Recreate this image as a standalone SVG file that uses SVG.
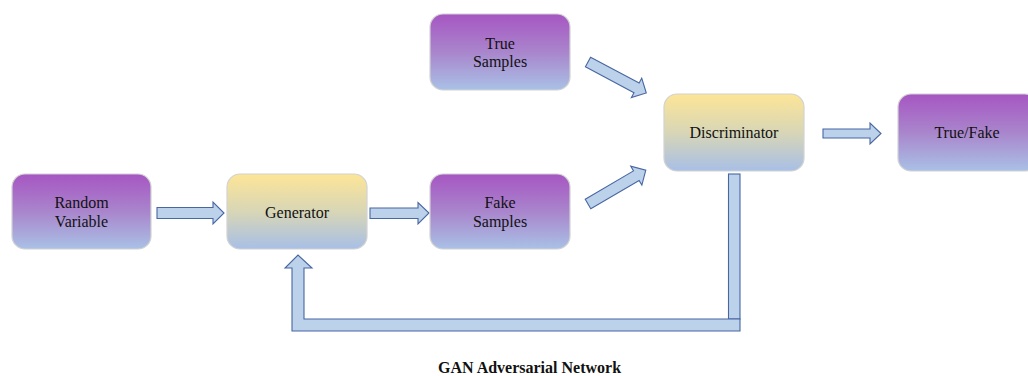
<svg xmlns="http://www.w3.org/2000/svg" width="1028" height="376" viewBox="0 0 1028 376">
<defs>
<linearGradient id="gP" x1="0" y1="0" x2="0" y2="1">
<stop offset="0" stop-color="#a656c2"/>
<stop offset="0.5" stop-color="#a985cc"/>
<stop offset="1" stop-color="#a9c1e6"/>
</linearGradient>
<linearGradient id="gY" x1="0" y1="0" x2="0" y2="1">
<stop offset="0" stop-color="#fde597"/>
<stop offset="0.5" stop-color="#d8d6b6"/>
<stop offset="1" stop-color="#a8bfe6"/>
</linearGradient>
</defs>
<style>
.bp{fill:url(#gP);stroke:#d2d2d2;stroke-width:1.2}
.by{fill:url(#gY);stroke:#d2d2d2;stroke-width:1.2}
.t{font-family:"Liberation Serif","Times New Roman",serif;font-size:16px;fill:#111;text-anchor:middle}
.ar{fill:#bcd1ea;stroke:#4866a2;stroke-width:1.1;stroke-linejoin:miter}
.title{font-family:"Liberation Serif","Times New Roman",serif;font-size:16px;font-weight:bold;fill:#111;text-anchor:middle}
</style>
<g id="connectors">
<path class="ar" d="M157,207.5 H213 V202 L224,213 L213,224 V218.5 H157 Z"/>
<path class="ar" d="M370,208 H418 V202.5 L429,213 L418,224 V218.5 H370 Z"/>
<path class="ar" d="M823,129 H870 V123 L881,133.5 L870,144 V138 H823 Z"/>
<path class="ar" transform="translate(588,62) rotate(28)" d="M0,-5.5 H55 V-11 L66,0 L55,11 V5.5 H0 Z"/>
<path class="ar" transform="translate(588,204) rotate(-30.4)" d="M0,-5.5 H56 V-11 L67,0 L56,11 V5.5 H0 Z"/>
<rect class="ar" x="728.5" y="174" width="11.5" height="145"/>
<path class="ar" d="M292,331 H740 V319 H304 V268 H312 L298,255 L285,268 H292 Z"/>
</g>
<g id="random-variable">
<rect class="bp" x="12" y="174" width="139" height="75" rx="13"/>
<text class="t" x="81.5" y="208">Random</text>
<text class="t" x="81.5" y="227">Variable</text>
</g>
<g id="generator">
<rect class="by" x="227" y="174" width="140" height="75" rx="13"/>
<text class="t" x="297" y="217.5">Generator</text>
</g>
<g id="fake-samples">
<rect class="bp" x="430" y="174" width="140" height="75" rx="13"/>
<text class="t" x="500" y="208">Fake</text>
<text class="t" x="500" y="227">Samples</text>
</g>
<g id="true-samples">
<rect class="bp" x="430" y="14" width="140" height="76" rx="13"/>
<text class="t" x="500" y="48.5">True</text>
<text class="t" x="500" y="67">Samples</text>
</g>
<g id="discriminator">
<rect class="by" x="664" y="94" width="140" height="77" rx="13"/>
<text class="t" x="734" y="138">Discriminator</text>
</g>
<g id="true-fake">
<rect class="bp" x="898" y="94" width="140" height="77" rx="13"/>
<text class="t" x="967" y="138">True/Fake</text>
</g>
<text class="title" x="529.5" y="373">GAN Adversarial Network</text>
</svg>
